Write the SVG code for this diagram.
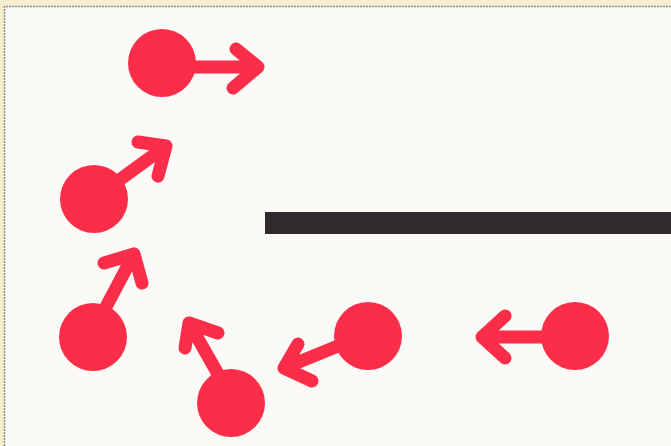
<svg xmlns="http://www.w3.org/2000/svg" width="671" height="446" viewBox="0 0 671 446">
<style>
.ball{fill:#fb2d48}
.arr{stroke:#fb2d48;stroke-width:13;stroke-linecap:round;stroke-linejoin:round;fill:none}
</style>
<rect x="0" y="0" width="671" height="446" fill="#f6efcf"/>
<rect x="4" y="6.5" width="667" height="439.5" fill="#fbfaf6"/>
<path d="M4.5 446V6.5H671" fill="none" stroke="#8c8a80" stroke-width="1.5" stroke-dasharray="2 1"/>
<rect id="wall" x="265" y="212" width="406" height="22" fill="#2f2a2d"/>
<g id="connectors">
<path class="arr" d="M190 67H258M236 49L258 67L233 88"/>
<path class="arr" d="M118 181L166 146M138 142L166 146L158 176"/>
<path class="arr" d="M107 305L134 254M104 263L134 254L142 283"/>
<path class="arr" d="M218 374L189 323M185 348L189 323L218 333"/>
<path class="arr" d="M338 346L284 368M298 344L284 368L312 381"/>
<path class="arr" d="M545 337H482M505 316L482 337L505 358"/>
</g>
<g id="n1"><circle class="ball" cx="162" cy="63" r="34"/></g>
<g id="n2"><circle class="ball" cx="94" cy="199" r="34"/></g>
<g id="n3"><circle class="ball" cx="93" cy="337" r="34"/></g>
<g id="n4"><circle class="ball" cx="231" cy="403" r="34"/></g>
<g id="n5"><circle class="ball" cx="368" cy="336" r="34"/></g>
<g id="n6"><circle class="ball" cx="575" cy="336" r="34"/></g>
</svg>
